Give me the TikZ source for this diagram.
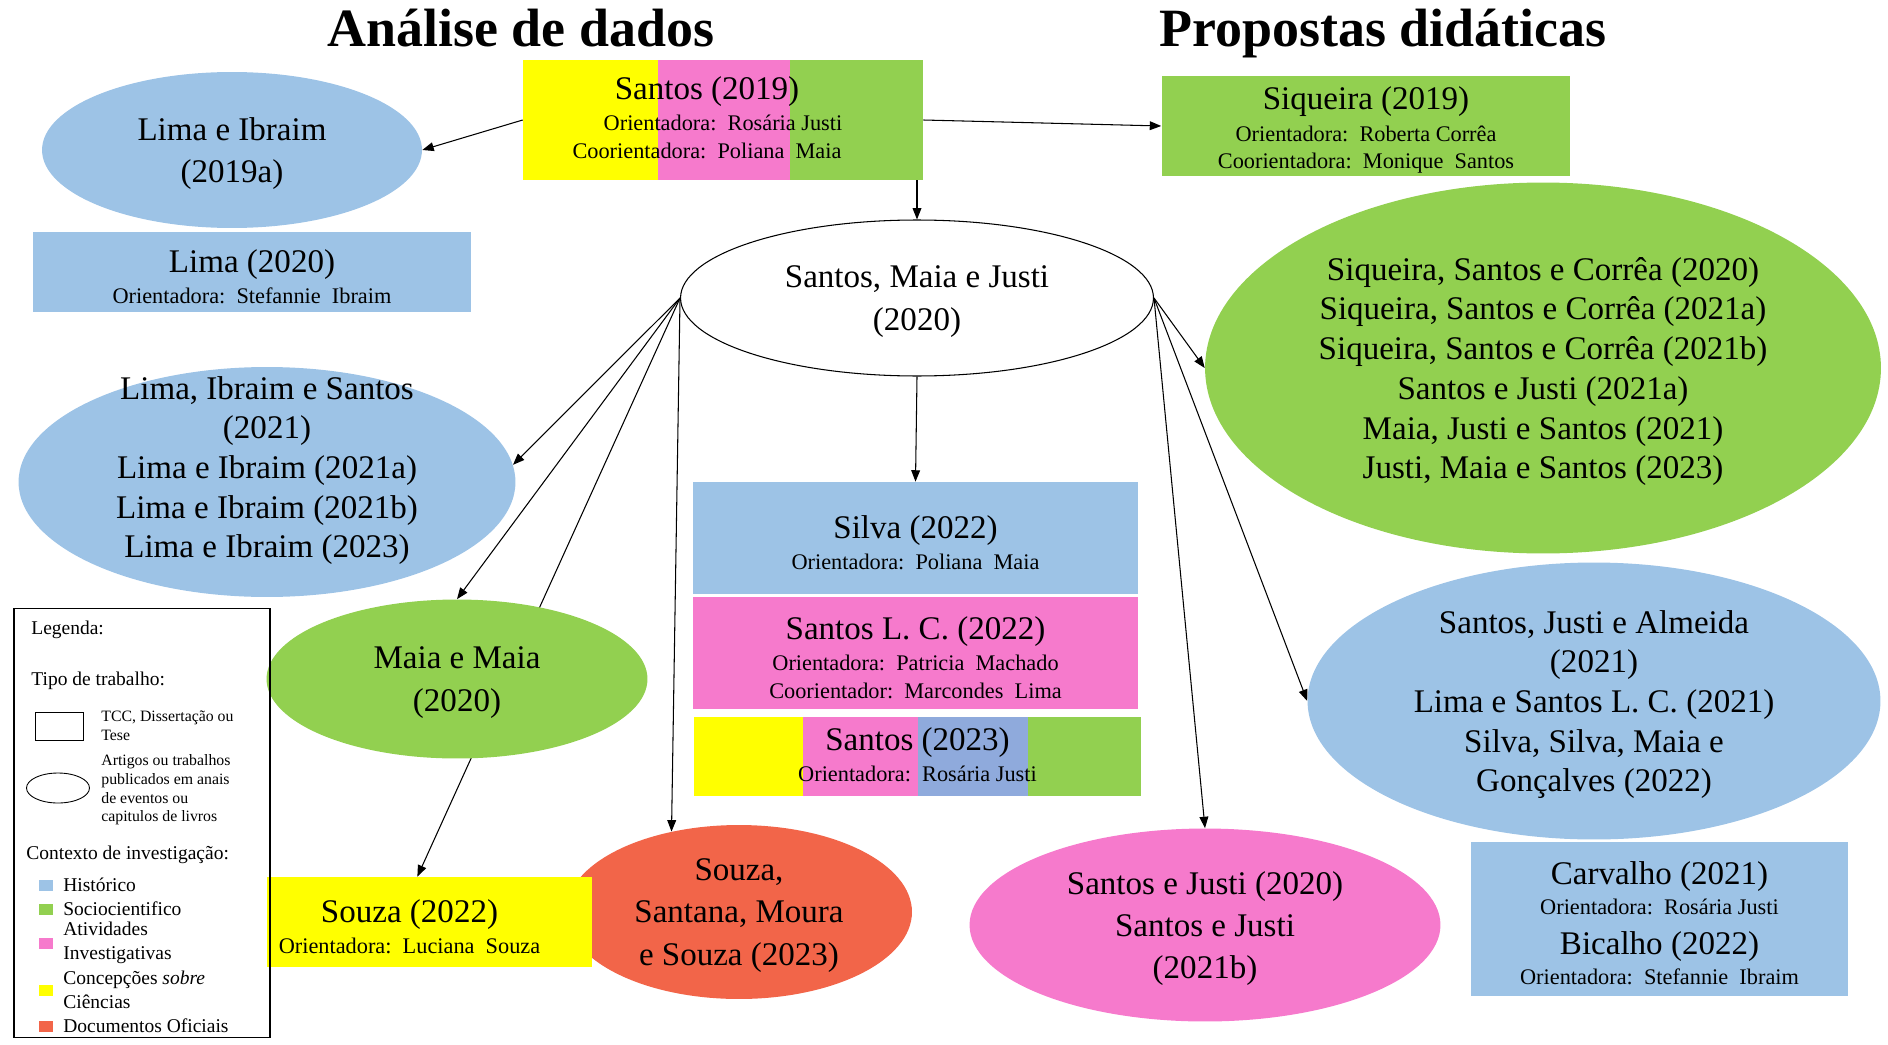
\documentclass[tikz,border=0pt]{standalone}
\usepackage{fontspec}
\setmainfont{Liberation Serif}
\usetikzlibrary{shapes,arrows.meta,positioning,calc}
\definecolor{hist}{HTML}{9DC3E6}
\definecolor{hist2}{HTML}{8FAADC}
\definecolor{socio}{HTML}{92D050}
\definecolor{ativ}{HTML}{F67ACC}
\definecolor{conc}{HTML}{FFFF00}
\definecolor{docof}{HTML}{F26549}
\newcommand{\mainsz}{\fontsize{18.8}{22.6}\selectfont}
\newcommand{\mainszb}{\fontsize{18.8}{24}\selectfont}
\newcommand{\subsz}{\fontsize{12.7}{15.8}\selectfont}
\newcommand{\legsz}{\fontsize{11.1}{13.6}\selectfont}
\newcommand{\keysz}{\fontsize{9}{10.6}\selectfont}
\newcommand{\headln}[1]{{\mainsz\rule{0pt}{18pt}#1}}
\pgfdeclarelayer{bg}
\pgfsetlayers{bg,main}

\begin{document}
\begin{tikzpicture}[x=0.02cm,y=-0.02cm]
\tikzstyle{work} = [rectangle, inner sep=0pt, align=center, font=\subsz]
\tikzstyle{paper} = [ellipse, inner sep=-3cm, align=center, font=\mainsz, text depth=-2.6pt]
\tikzstyle{link} = [line width=0.6pt, -{Triangle[length=6.5pt,width=5pt]}]
\tikzstyle{legtxt} = [anchor=west, inner sep=0pt, align=left, font=\legsz]
\tikzstyle{legkey} = [rectangle, inner sep=0pt, minimum width=0.3cm, minimum height=0.22cm]

\useasboundingbox (0,0) rectangle (1888,1044);

\node[anchor=base, font=\fontsize{30.7}{34}\selectfont\bfseries] at (521,47) (tit1){Análise de dados};
\node[anchor=base, font=\fontsize{30.7}{34}\selectfont\bfseries] at (1383,47) (tit2){Propostas didáticas};

\node[work, minimum width=8cm, minimum height=2.4cm, text depth=8.2pt] at (723,120) (s19){\headln{Santos (2019)}\hspace*{0.64cm}\\[2pt]Orientadora:\ \ Rosária Justi\hspace*{0.64cm}\\Coorientadora:\ \ Poliana\ \ Maia\hspace*{0.64cm}};
\node[paper, fill=hist, minimum width=7.6cm, minimum height=3.12cm, font=\mainszb, text depth=-6.6pt] at (232,150) (lima19a){Lima e Ibraim\\(2019a)};
\node[work, fill=hist, minimum width=8.78cm, minimum height=1.62cm] at (252,272) (lima20){\headln{Lima (2020)}\\[2pt]Orientadora:\ \ Stefannie\ \ Ibraim};
\node[work, fill=socio, minimum width=8.18cm, minimum height=2.02cm] at (1366,126) (siq19){\headln{Siqueira (2019)}\\[2pt]Orientadora:\ \ Roberta Corrêa\\Coorientadora:\ \ Monique\ \ Santos};

\node[paper, draw, fill=white, line width=0.6pt, minimum width=9.46cm, minimum height=3.12cm, font=\mainszb] at (917,298) (smj){Santos, Maia e Justi\\(2020)};

\node[paper, fill=socio, minimum width=13.52cm, minimum height=7.42cm] at (1543,368) (gse){Siqueira, Santos e Corrêa (2020)\\Siqueira, Santos e Corrêa (2021a)\\Siqueira, Santos e Corrêa (2021b)\\Santos e Justi (2021a)\\Maia, Justi e Santos (2021)\\Justi, Maia e Santos (2023)};
\node[paper, fill=hist, minimum width=9.94cm, minimum height=4.6cm, text depth=17pt] at (267,482) (lis){Lima, Ibraim e Santos\\(2021)\\Lima e Ibraim (2021a)\\Lima e Ibraim (2021b)\\Lima e Ibraim (2023)};
\node[paper, fill=socio, minimum width=7.62cm, minimum height=3.18cm, font=\mainszb] at (457,679) (mm){Maia e Maia\\(2020)};

\node[work, fill=hist, minimum width=8.9cm, minimum height=2.24cm] at (915.5,538) (silva){\headln{Silva (2022)}\\[2pt]Orientadora:\ \ Poliana\ \ Maia};
\node[work, fill=ativ, minimum width=8.9cm, minimum height=2.24cm] at (915.5,653) (slc){\headln{Santos L. C. (2022)}\\[2pt]Orientadora:\ \ Patricia\ \ Machado\\Coorientador:\ \ Marcondes\ \ Lima};
\node[work, minimum width=8.94cm, minimum height=1.58cm, text depth=7pt] at (917.5,756.5) (s23){\headln{Santos (2023)}\\[2pt]Orientadora:\ \ Rosária Justi};

\node[paper, fill=docof, minimum width=6.92cm, minimum height=3.48cm, font=\mainszb] at (739,912) (ssms){Souza,\\Santana, Moura\\e Souza (2023)};
\node[work, fill=conc, minimum width=6.5cm, minimum height=1.8cm] at (429.5,922) (souza22){\headln{Souza (2022)}\hspace*{0.8cm}\\[2pt]Orientadora:\ \ Luciana\ \ Souza\hspace*{0.8cm}};
\node[paper, fill=ativ, minimum width=9.42cm, minimum height=3.86cm, font=\mainszb] at (1205,925) (sj){Santos e Justi (2020)\\Santos e Justi\\(2021b)};
\node[paper, fill=hist, minimum width=11.46cm, minimum height=5.54cm] at (1594,701) (sja){Santos, Justi e Almeida\\(2021)\\Lima e Santos L. C. (2021)\\Silva, Silva, Maia e\\Gonçalves (2022)};
\node[work, fill=hist, minimum width=7.54cm, minimum height=3.08cm, font=\fontsize{12.7}{17}\selectfont] at (1659.5,919) (cb){\headln{Carvalho (2021)}\\Orientadora:\ \ Rosária Justi\\[6pt]{\mainsz Bicalho (2022)}\\Orientadora:\ \ Stefannie\ \ Ibraim};

\node[draw, line width=0.6pt, minimum width=5.12cm, minimum height=8.6cm, inner sep=0pt] at (142,823) (leg){};
\node[legtxt] at (31,630) (legt){Legenda:};
\node[legtxt] at (31,681) (tipo){Tipo de trabalho:};
\node[draw, rectangle, line width=0.5pt, minimum width=0.96cm, minimum height=0.56cm, inner sep=0pt] at (59,726) (keyrect){};
\node[legtxt, font=\keysz] at (101,726) (keyrectt){TCC, Dissertação ou\\Tese};
\node[draw, ellipse, line width=0.5pt, minimum width=1.26cm, minimum height=0.6cm, inner sep=0pt] at (58,788) (keyell){};
\node[legtxt, font=\keysz] at (101,790) (keyellt){Artigos ou trabalhos\\publicados em anais\\de eventos ou\\capitulos de livros};
\node[legtxt] at (26,855) (ctx){Contexto de investigação:};
\foreach \y/\c/\t [count=\i] in {885/hist/Histórico, 909/socio/Sociocientifico, 943/ativ/{Atividades\\Investigativas}, 990/conc/{Concepções \textit{sobre}\\Ciências}, 1026/docof/Documentos Oficiais}{
  \node[legkey, fill=\c] at (46,\y) (key\i){};
  \node[legtxt] at (63,\y) (keyt\i){\t};
}

\begin{pgfonlayer}{bg}
\fill[conc] (523,60) rectangle (658,180);
\fill[ativ] (658,60) rectangle (790,180);
\fill[socio] (790,60) rectangle (923,180);
\fill[conc] (694,717) rectangle (803,796);
\fill[ativ] (803,717) rectangle (918,796);
\fill[hist2] (918,717) rectangle (1028,796);
\fill[socio] (1028,717) rectangle (1141,796);

\draw[link] (s19.west) -- (lima19a.east);
\draw[link] (s19.east) -- (siq19.west);
\draw[link] (smj.north |- s19.south) -- (smj.north);
\draw[link] (smj.west) -- (lis.4);
\draw[link] (smj.west) -- (mm.north);
\draw[link] (smj.west) -- (souza22.105);
\draw[link] (smj.west) -- (ssms.130);
\draw[link] (smj.south) -- (silva.north);
\draw[link] (smj.east) -- (gse.west);
\draw[link] (smj.east) -- (sja.west);
\draw[link] (smj.east) -- (sj.north);
\end{pgfonlayer}
\end{tikzpicture}
\end{document}
